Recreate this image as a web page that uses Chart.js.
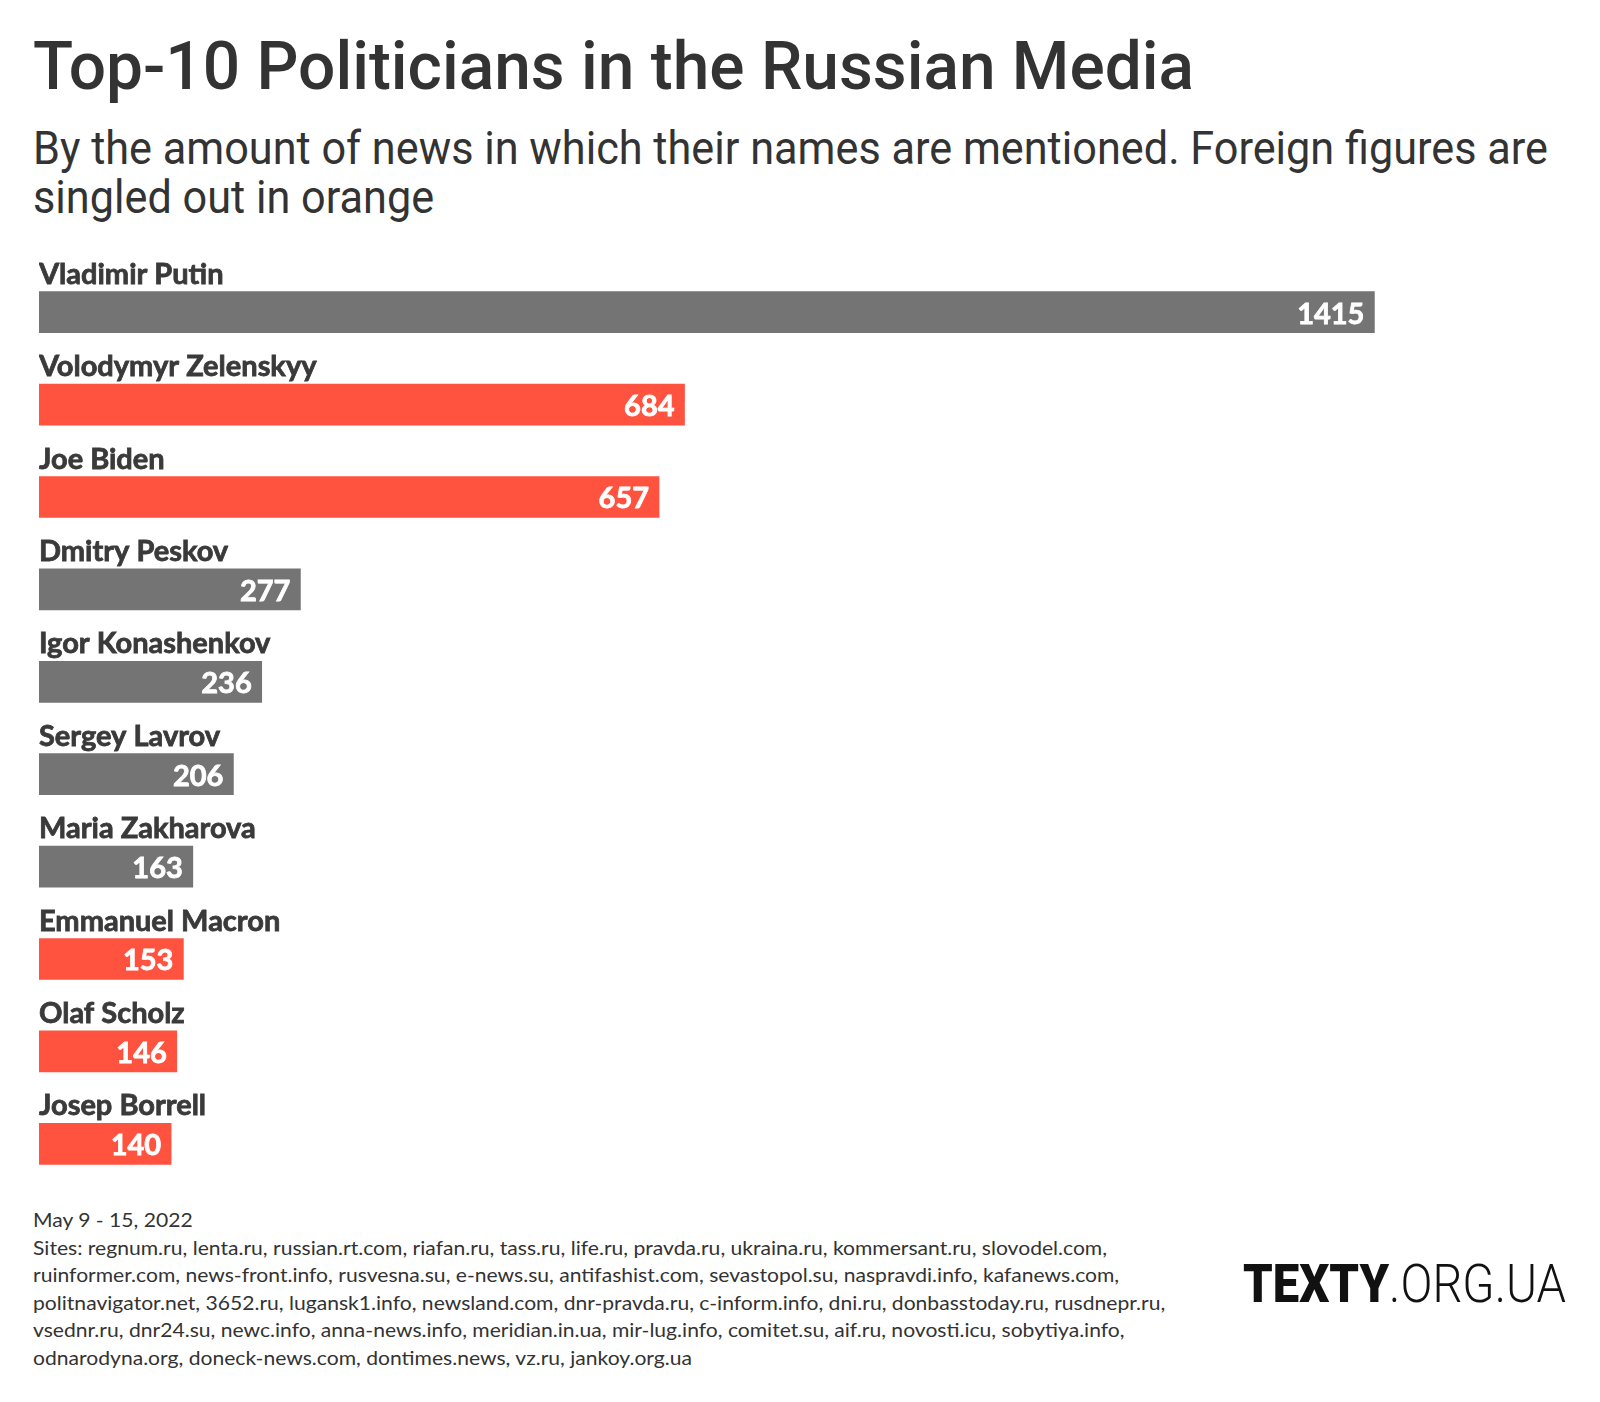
<!DOCTYPE html>
<html>
<head>
<meta charset="utf-8">
<script src="https://cdn.jsdelivr.net/npm/chart.js@4.4.1/dist/chart.umd.min.js"></script>
<style>
  body { margin: 0; background: #fff; width: 1600px; height: 1402px; position: relative; overflow: hidden; }
  .txt { position: absolute; white-space: nowrap; transform-origin: 0 0; }
  #title { left: 33px; top: 34px; font: 500 66px/66px Roboto, sans-serif; color: #333; }
  .sub { left: 33px; font: 400 47px/49px Roboto, sans-serif; color: #333; }
  .foot { left: 33px; font: 400 20px/27.6px Lato, sans-serif; color: #333; }
  #logo { left: 1243px; top: 1258px; font: 53px/53px Roboto, sans-serif; color: #111; }
  #logo b { font-weight: 900; }
  #logo span { font-weight: 300; }
  #chartBox { position: absolute; left: 39px; top: 240px; width: 1510px; height: 960px; }
</style>
</head>
<body>
<div id="title" class="txt">Top-10 Politicians in the Russian Media</div>
<div id="sub1" class="txt sub" style="top:123px">By the amount of news in which their names are mentioned. Foreign figures are</div>
<div id="sub2" class="txt sub" style="top:172px">singled out in orange</div>

<div id="chartBox"><canvas id="chart"></canvas></div>

<div id="foot0" class="txt foot" style="top:1206px">May 9 - 15, 2022</div>
<div id="foot1" class="txt foot" style="top:1233.6px">Sites: regnum.ru, lenta.ru, russian.rt.com, riafan.ru, tass.ru, life.ru, pravda.ru, ukraina.ru, kommersant.ru, slovodel.com,</div>
<div id="foot2" class="txt foot" style="top:1261.2px">ruinformer.com, news-front.info, rusvesna.su, e-news.su, antifashist.com, sevastopol.su, naspravdi.info, kafanews.com,</div>
<div id="foot3" class="txt foot" style="top:1288.8px">politnavigator.net, 3652.ru, lugansk1.info, newsland.com, dnr-pravda.ru, c-inform.info, dni.ru, donbasstoday.ru, rusdnepr.ru,</div>
<div id="foot4" class="txt foot" style="top:1316.4px">vsednr.ru, dnr24.su, newc.info, anna-news.info, meridian.in.ua, mir-lug.info, comitet.su, aif.ru, novosti.icu, sobytiya.info,</div>
<div id="foot5" class="txt foot" style="top:1344px">odnarodyna.org, doneck-news.com, dontimes.news, vz.ru, jankoy.org.ua</div>

<div id="logo" class="txt"><b>TEXTY</b><span>.ORG.UA</span></div>

<script>
// Data
const names = [
  "Vladimir Putin", "Volodymyr Zelenskyy", "Joe Biden", "Dmitry Peskov",
  "Igor Konashenkov", "Sergey Lavrov", "Maria Zakharova", "Emmanuel Macron",
  "Olaf Scholz", "Josep Borrell"
];
const mentions = [1415, 684, 657, 277, 236, 206, 163, 153, 146, 140];
const isForeign = [false, true, true, false, false, false, false, true, true, true];

const GRAY = "#747474";
const ORANGE = "#ff5340";

// Squeeze a text block to a target width (the reference uses a condensed face)
function fitWidth(id, target) {
  const el = document.getElementById(id);
  el.style.transform = "none";
  const w = el.getBoundingClientRect().width;
  const s = target / w;
  el.style.transform = `scaleX(${s})`;
  return s;
}

// Draws names above bars and values inside bar ends
const barLabels = {
  id: "barLabels",
  afterDatasetsDraw(chart) {
    const ctx = chart.ctx;
    const meta = chart.getDatasetMeta(0);
    ctx.save();
    meta.data.forEach((bar, i) => {
      const top = bar.y - bar.height / 2;
      ctx.font = "bold 29px Lato, sans-serif";
      ctx.fillStyle = "#3a3a3a";
      ctx.strokeStyle = "#3a3a3a";
      ctx.lineWidth = 0.8;
      ctx.textAlign = "left";
      ctx.textBaseline = "alphabetic";
      ctx.fillText(names[i], chart.chartArea.left, top - 8);
      ctx.strokeText(names[i], chart.chartArea.left, top - 8);

      ctx.font = "bold 29px Lato, sans-serif";
      ctx.fillStyle = "#fff";
      ctx.strokeStyle = "#fff";
      ctx.textAlign = "right";
      ctx.textBaseline = "middle";
      ctx.fillText(String(mentions[i]), bar.x - 10, bar.y + 2);
      ctx.strokeText(String(mentions[i]), bar.x - 10, bar.y + 2);
    });
    ctx.restore();
  },
};

document.fonts.ready.then(() => {
  fitWidth("title", 1161);
  const subScale = fitWidth("sub1", 1515);
  document.getElementById("sub2").style.transform = `scaleX(${subScale})`;
  const footScale = fitWidth("foot1", 1074);
  ["foot0", "foot2", "foot3", "foot4", "foot5"].forEach((id) => {
    document.getElementById(id).style.transform = `scaleX(${footScale})`;
  });
  fitWidth("logo", 323);

  new Chart(document.getElementById("chart"), {
    type: "bar",
    data: {
      labels: names,
      datasets: [{
        data: mentions,
        backgroundColor: isForeign.map((f) => (f ? ORANGE : GRAY)),
        borderWidth: 0,
        barThickness: 41,
      }],
    },
    options: {
      indexAxis: "y",
      responsive: true,
      maintainAspectRatio: false,
      animation: false,
      layout: { padding: { top: 26, bottom: 10, left: 0, right: 0 } },
      scales: {
        x: { display: false, min: 0, max: 1600 },
        y: { display: false },
      },
      plugins: {
        legend: { display: false },
        tooltip: { enabled: false },
      },
    },
    plugins: [barLabels],
  });
});
</script>
</body>
</html>
